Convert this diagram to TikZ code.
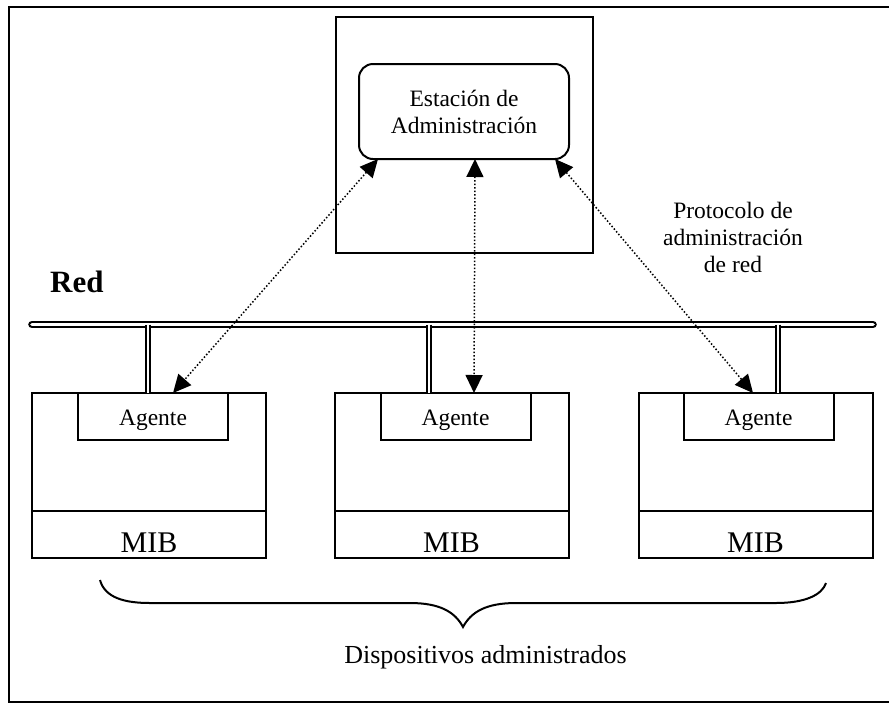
\documentclass[tikz,border=0pt]{standalone}
\usepackage{fontspec}
\setmainfont{Liberation Serif}
\usetikzlibrary{arrows.meta}
\begin{document}
\begin{tikzpicture}[x=1pt,y=-1pt,
  box/.style={draw, line width=2pt, inner sep=0pt, outer sep=0pt},
  txt/.style={font=\fontsize{23.5}{27}\selectfont, align=center, inner sep=0pt},
  agentbox/.style={box, txt, minimum width=150pt, minimum height=47pt, text height=17pt, text depth=0pt},
  devbox/.style={box, minimum width=234pt, minimum height=118pt},
  mibbox/.style={box, minimum width=234pt, minimum height=47pt, font=\fontsize{30}{34}\selectfont, text height=35pt, text depth=0pt},
  link/.style={line width=1.5pt, dotted, {Triangle[length=18pt,width=17pt]}-{Triangle[length=18pt,width=17pt]}},
  bus/.style={line width=2pt, double=white, double distance=3.6pt, line cap=round},
  stub/.style={line width=1.6pt, double=white, double distance=2pt},
]
\useasboundingbox (0,0) rectangle (889,705);
% outer frame
\draw[line width=2pt] (9,7) rectangle (892,702);

% management station
\node[box, minimum width=257pt, minimum height=236pt] (host) at (464.5,135) {};
\node[box, txt, rounded corners=14pt, minimum width=210pt, minimum height=95pt] (station) at (464,111.5) {Estación de\\Administración};

% managed devices
\node[devbox] (devA) at (149,452) {};
\node[devbox] (devB) at (451.5,452) {};
\node[devbox] (devC) at (755.5,452) {};
\node[mibbox] (mibA) at (149,534.5) {MIB};
\node[mibbox] (mibB) at (451.5,534.5) {MIB};
\node[mibbox] (mibC) at (755.5,534.5) {MIB};
\node[agentbox] (agA) at (153,416.5) {Agente};
\node[agentbox] (agB) at (455.5,416.5) {Agente};
\node[agentbox] (agC) at (758.5,416.5) {Agente};

% network bus and taps
\coordinate (busL) at (32,324.5);
\coordinate (busR) at (873,324.5);
\draw[bus] (busL) -- (busR);
\coordinate (tapA) at (148,324.5);
\coordinate (tapB) at (429,324.5);
\coordinate (tapC) at (778,324.5);
\draw[stub] (tapA) -- (tapA |- devA.north);
\draw[stub] (tapB) -- (tapB |- devB.north);
\draw[stub] (tapC) -- (tapC |- devC.north);

% protocol links
\draw[link] ([xshift=-86pt]station.south) -- ([xshift=20pt]agA.north);
\draw[link] ([xshift=11pt]station.south) -- ([xshift=18.5pt]agB.north);
\draw[link] ([xshift=91pt]station.south) -- ([xshift=-5.5pt]agC.north);

% labels
\node[font=\fontsize{31}{36}\selectfont\bfseries, anchor=base west, inner sep=0pt] (red) at (50,292) {Red};
\node[txt] (proto) at (733,237) {Protocolo de\\administración\\de red};
\node[font=\fontsize{26}{30}\selectfont, anchor=base, inner sep=0pt] (devs) at (485.5,663) {Dispositivos administrados};

% brace under the devices
\draw[line width=2pt]
  (100,580) .. controls (105,598) and (125,603) .. (150,603)
  -- (410,603) .. controls (440,603) and (455,612) .. (463,627)
  .. controls (471,612) and (486,603) .. (516,603)
  -- (776,603) .. controls (805,603) and (822,595) .. (826,583);
\end{tikzpicture}
\end{document}
